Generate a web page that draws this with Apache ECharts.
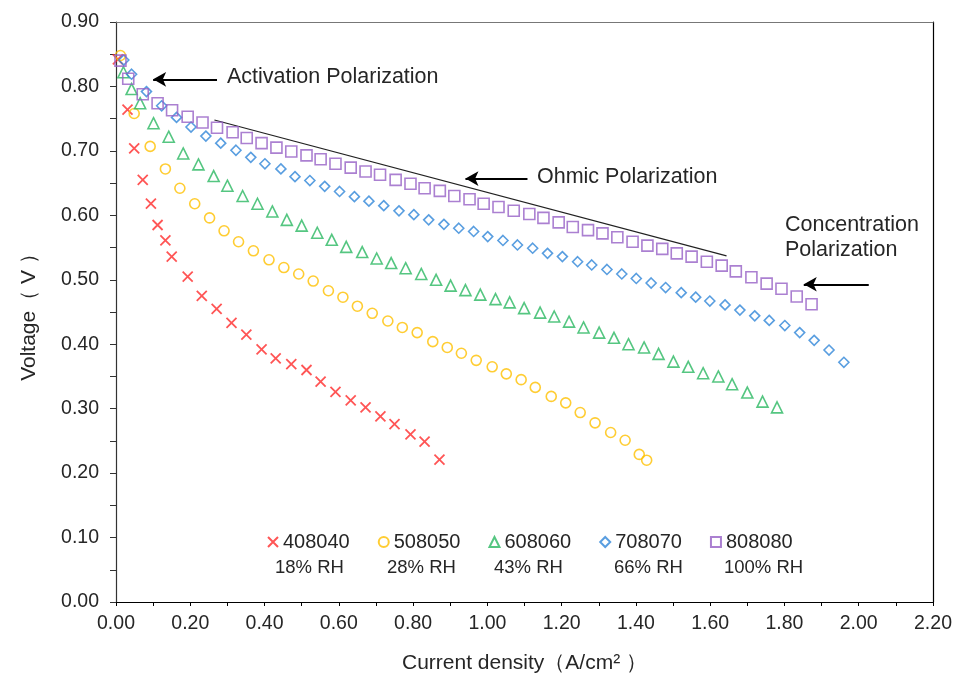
<!DOCTYPE html>
<html>
<head>
<meta charset="utf-8">
<script src="https://cdn.jsdelivr.net/npm/echarts@6/dist/echarts.min.js"></script>
<style>
  html, body { margin: 0; padding: 0; background: #fff; }
  #chart { width: 960px; height: 682px; }
</style>
</head>
<body>
<div id="chart"></div>
<script>
var seriesNames = ['408040', '508050', '608060', '708070', '808080'];
var rhLabels = ['18% RH', '28% RH', '43% RH', '66% RH', '100% RH'];
var xTicks = [0, 2.2, 0.2];
var yTicks = [0, 0.9, 0.1];

var d408040 = [[0.005,0.842],[0.031,0.764],[0.049,0.704],[0.072,0.655],[0.094,0.618],[0.112,0.585],[0.133,0.561],[0.150,0.536],[0.193,0.505],[0.231,0.475],[0.271,0.455],[0.311,0.433],[0.351,0.415],[0.392,0.392],[0.430,0.378],[0.472,0.369],[0.513,0.360],[0.551,0.342],[0.591,0.326],[0.632,0.313],[0.672,0.302],[0.712,0.288],[0.750,0.276],[0.793,0.260],[0.831,0.249],[0.871,0.221]];
var d508050 = [[0.012,0.848],[0.049,0.758],[0.092,0.707],[0.133,0.672],[0.172,0.642],[0.212,0.618],[0.252,0.596],[0.291,0.576],[0.330,0.559],[0.370,0.545],[0.412,0.531],[0.452,0.519],[0.492,0.509],[0.531,0.498],[0.572,0.483],[0.611,0.473],[0.650,0.459],[0.690,0.448],[0.732,0.436],[0.771,0.426],[0.811,0.418],[0.853,0.404],[0.892,0.395],[0.930,0.386],[0.970,0.375],[1.013,0.365],[1.051,0.354],[1.091,0.345],[1.129,0.333],[1.172,0.319],[1.211,0.309],[1.250,0.294],[1.290,0.278],[1.332,0.263],[1.371,0.251],[1.409,0.229],[1.429,0.220]];
var d608060 = [[0.020,0.822],[0.042,0.796],[0.065,0.774],[0.101,0.743],[0.142,0.722],[0.181,0.696],[0.222,0.679],[0.263,0.661],[0.300,0.646],[0.341,0.630],[0.381,0.618],[0.421,0.606],[0.460,0.593],[0.500,0.584],[0.542,0.573],[0.581,0.562],[0.620,0.551],[0.663,0.543],[0.702,0.533],[0.741,0.526],[0.780,0.518],[0.822,0.509],[0.862,0.500],[0.901,0.491],[0.941,0.484],[0.981,0.477],[1.022,0.470],[1.060,0.465],[1.099,0.456],[1.142,0.449],[1.180,0.443],[1.220,0.435],[1.259,0.426],[1.301,0.418],[1.341,0.410],[1.380,0.400],[1.422,0.395],[1.461,0.385],[1.501,0.373],[1.541,0.365],[1.581,0.355],[1.622,0.350],[1.659,0.338],[1.700,0.325],[1.741,0.311],[1.780,0.302]];
var d708070 = [[0.021,0.841],[0.042,0.819],[0.082,0.792],[0.123,0.770],[0.163,0.752],[0.202,0.737],[0.242,0.723],[0.282,0.712],[0.323,0.701],[0.363,0.690],[0.401,0.680],[0.444,0.672],[0.482,0.660],[0.522,0.654],[0.562,0.645],[0.602,0.637],[0.642,0.629],[0.681,0.622],[0.721,0.615],[0.762,0.607],[0.802,0.601],[0.842,0.593],[0.883,0.586],[0.923,0.580],[0.963,0.575],[1.001,0.567],[1.042,0.561],[1.081,0.554],[1.122,0.549],[1.162,0.541],[1.202,0.536],[1.243,0.528],[1.281,0.523],[1.322,0.516],[1.362,0.509],[1.401,0.502],[1.441,0.495],[1.480,0.488],[1.522,0.480],[1.561,0.473],[1.599,0.467],[1.640,0.461],[1.680,0.453],[1.720,0.444],[1.759,0.437],[1.801,0.429],[1.841,0.418],[1.880,0.406],[1.920,0.391],[1.960,0.372]];
var d808080 = [[0.012,0.840],[0.033,0.812],[0.072,0.788],[0.112,0.774],[0.151,0.763],[0.193,0.753],[0.233,0.744],[0.272,0.736],[0.314,0.729],[0.352,0.720],[0.392,0.712],[0.432,0.705],[0.472,0.699],[0.513,0.693],[0.551,0.687],[0.591,0.680],[0.632,0.674],[0.672,0.668],[0.711,0.663],[0.753,0.655],[0.793,0.649],[0.831,0.642],[0.872,0.638],[0.911,0.630],[0.952,0.625],[0.990,0.618],[1.030,0.613],[1.071,0.607],[1.113,0.602],[1.151,0.596],[1.192,0.589],[1.230,0.582],[1.271,0.577],[1.310,0.572],[1.350,0.566],[1.391,0.559],[1.431,0.553],[1.471,0.548],[1.510,0.541],[1.550,0.536],[1.591,0.528],[1.631,0.522],[1.669,0.513],[1.711,0.504],[1.752,0.494],[1.792,0.486],[1.833,0.474],[1.873,0.462]];

// ohmic trend line and the three arrows (tip, tail)
var ohmicLine = [[0.265, 0.748], [1.644, 0.537]];
var arrowActivation = [[0.100, 0.811], [0.272, 0.811]];
var arrowOhmic = [[0.941, 0.657], [1.108, 0.657]];
var arrowConc = [[1.852, 0.493], [2.027, 0.493]];

var colors = ['#ff2b2b', '#ffc000', '#2bb862', '#2f86d8', '#9660c6'];
var symbols = ['path://M0,0L10,10M10,0L0,10', 'circle', 'triangle', 'diamond', 'rect'];
var sizes = [10, 10, 11, 10, 11];
var allData = [d408040, d508050, d608060, d708070, d808080];

var font = '"Liberation Sans", Arial, sans-serif';
var textColor = '#262626';

var chart = echarts.init(document.getElementById('chart'));

var series = seriesNames.map(function (name, i) {
    return {
        name: name,
        type: 'scatter',
        xAxisIndex: 0,
        yAxisIndex: 0,
        data: allData[i],
        symbol: symbols[i],
        symbolSize: sizes[i],
        itemStyle: {
            color: 'transparent',
            borderColor: colors[i],
            borderWidth: i === 0 ? 1.8 : 1.6
        },
        z: 3
    };
});

function arrow(pts) {
    return [{ coord: pts[0] }, { coord: pts[1] }];
}

series.push({
    name: 'ohmic',
    type: 'line',
    xAxisIndex: 0,
    yAxisIndex: 0,
    data: ohmicLine,
    symbol: 'none',
    lineStyle: { color: '#222', width: 1.2 },
    silent: true,
    z: 2,
    markLine: {
        silent: true,
        symbol: ['arrow', 'none'],
        symbolSize: [11, 13],
        label: { show: false },
        lineStyle: { color: '#000', width: 2, type: 'solid' },
        data: [arrow(arrowActivation), arrow(arrowOhmic), arrow(arrowConc)]
    }
});

var rhCenters = [309, 421, 528, 648, 758];
var graphics = rhLabels.map(function (t, i) {
    return {
        type: 'text',
        left: rhCenters[i] - 34,
        top: 558,
        style: { text: t, fill: textColor, font: '18.5px ' + font }
    };
});
graphics.push(
    { type: 'text', left: 227, top: 66, style: { text: 'Activation Polarization', fill: textColor, font: '21.5px ' + font } },
    { type: 'text', left: 537, top: 166, style: { text: 'Ohmic Polarization', fill: textColor, font: '21.5px ' + font } },
    { type: 'text', left: 785, top: 214, style: { text: 'Concentration', fill: textColor, font: '21.5px ' + font } },
    { type: 'text', left: 785, top: 239, style: { text: 'Polarization', fill: textColor, font: '21.5px ' + font } }
);

var option = {
    animation: false,
    backgroundColor: '#fff',
    grid: { left: 116, right: 27, top: 22, bottom: 80 },
    legend: {
        data: seriesNames,
        left: 262,
        top: 527,
        itemWidth: 10,
        itemHeight: 10,
        itemGap: 28,
        textStyle: { fontSize: 20, color: textColor, fontFamily: font }
    },
    xAxis: [{
        type: 'value',
        min: xTicks[0], max: xTicks[1], interval: xTicks[2],
        name: 'Current density（A/cm² ）',
        nameLocation: 'middle',
        nameGap: 51,
        nameTextStyle: { fontSize: 21, color: textColor, fontFamily: font },
        axisLine: { onZero: false, lineStyle: { color: '#000', width: 1.2 } },
        axisTick: { inside: false, length: 4, lineStyle: { color: '#000' } },
        minorTick: { show: true, splitNumber: 2, length: 4, lineStyle: { color: '#000' } },
        splitLine: { show: false },
        axisLabel: {
            margin: 12, fontSize: 19.5, color: textColor, fontFamily: font,
            formatter: function (v) { return v.toFixed(2); }
        }
    }, {
        type: 'value', position: 'top',
        min: xTicks[0], max: xTicks[1],
        axisLine: { show: true, onZero: false, lineStyle: { color: '#777', width: 1.2 } },
        axisTick: { show: false }, axisLabel: { show: false }, splitLine: { show: false }
    }],
    yAxis: [{
        type: 'value',
        min: yTicks[0], max: yTicks[1], interval: yTicks[2],
        name: 'Voltage（ V ）',
        nameLocation: 'middle',
        nameGap: 76,
        nameTextStyle: { fontSize: 21, color: textColor, fontFamily: font },
        axisLine: { show: true, onZero: false, lineStyle: { color: '#333', width: 1.2 } },
        axisTick: { inside: false, length: 6, lineStyle: { color: '#333' } },
        minorTick: { show: true, splitNumber: 2, length: 6, lineStyle: { color: '#333' } },
        splitLine: { show: false },
        axisLabel: {
            margin: 17, fontSize: 19.5, color: textColor, fontFamily: font,
            formatter: function (v) { return v.toFixed(2); }
        }
    }, {
        type: 'value', position: 'right',
        min: yTicks[0], max: yTicks[1],
        axisLine: { show: true, onZero: false, lineStyle: { color: '#000', width: 1.2 } },
        axisTick: { show: false }, axisLabel: { show: false }, splitLine: { show: false }
    }],
    graphic: graphics,
    series: series
};

chart.setOption(option);
</script>
</body>
</html>
